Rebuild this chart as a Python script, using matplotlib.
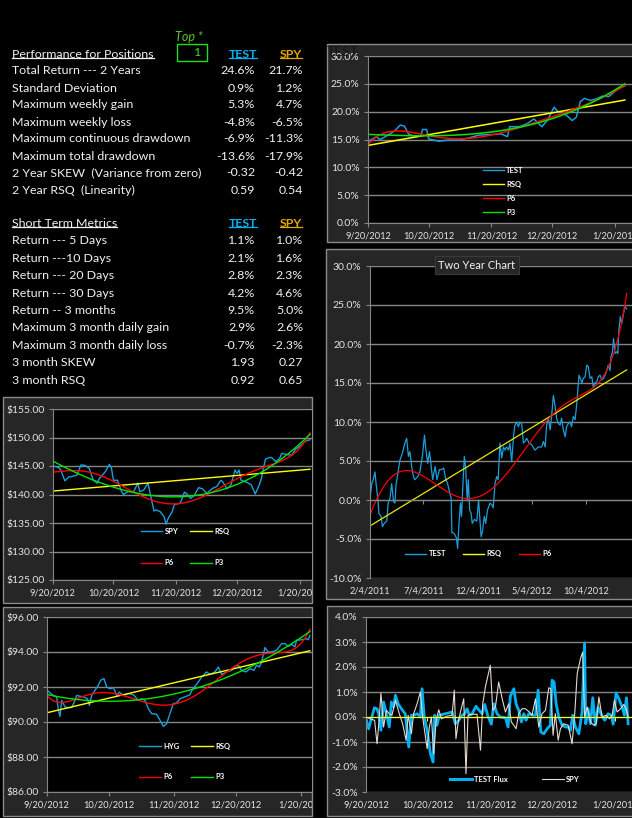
import numpy as np
import matplotlib
matplotlib.use("Agg")
import matplotlib.pyplot as plt
from matplotlib.patches import Rectangle
from matplotlib.lines import Line2D
from matplotlib.ticker import FuncFormatter

plt.rcParams['font.family'] = ['Lato', 'DejaVu Sans']

# ---------------- table data ----------------
perf_rows = ["Total Return --- 2 Years", "Standard Deviation", "Maximum weekly gain",
             "Maximum weekly loss", "Maximum continuous drawdown", "Maximum total drawdown",
             "2 Year SKEW  (Variance from zero)", "2 Year RSQ  (Linearity)"]
perf_test = ["24.6%", "0.9%", "5.3%", "-4.8%", "-6.9%", "-13.6%", "-0.32", "0.59"]
perf_spy = ["21.7%", "1.2%", "4.7%", "-6.5%", "-11.3%", "-17.9%", "-0.42", "0.54"]

short_rows = ["Return --- 5 Days", "Return ---10 Days", "Return --- 20 Days", "Return --- 30 Days",
              "Return -- 3 months", "Maximum 3 month daily gain", "Maximum 3 month daily loss",
              "3 month SKEW", "3 month RSQ"]
short_test = ["1.1%", "2.1%", "2.8%", "4.2%", "9.5%", "2.9%", "-0.7%", "1.93", "0.92"]
short_spy = ["1.0%", "1.6%", "2.3%", "4.6%", "5.0%", "2.6%", "-2.3%", "0.27", "0.65"]

top_n = "1"

# ---------------- chart data (days since first date) ----------------
start_3m = np.datetime64('2012-09-20')
ticks_3m = ['2012-09-20', '2012-10-20', '2012-11-20', '2012-12-20', '2013-01-20']
labels_3m = ['9/20/2012', '10/20/2012', '11/20/2012', '12/20/2012', '1/20/2013']
start_2y = np.datetime64('2011-02-04')
ticks_2y = ['2011-02-04', '2011-07-04', '2011-12-04', '2012-05-04', '2012-10-04']
labels_2y = ['2/4/2011', '7/4/2011', '12/4/2011', '5/4/2012', '10/4/2012']

# TEST, 3 months, cumulative return %
test3m_day = [0, 4, 6, 9, 13, 16, 18, 20, 23, 26, 27, 29, 30, 35, 40, 45, 50, 55, 61, 66,
              69, 70, 75, 79, 82, 86, 89, 92, 94, 98, 101, 103, 105, 107, 110, 113, 116, 119, 121, 124, 127]
test3m_pct = [14.6, 15.5, 15.0, 15.6, 16.5, 17.6, 17.4, 16.0, 15.5, 15.6, 16.8, 16.8, 15.1, 14.7, 14.9,
              14.9, 15.3, 15.8, 15.9, 16.0, 15.5, 17.3, 17.3, 17.9, 18.7, 17.3, 18.6, 20.8, 20.0, 19.4,
              18.4, 19.0, 21.8, 22.4, 22.0, 22.3, 22.8, 22.7, 23.3, 24.2, 24.6]

# TEST, two years, cumulative return %
test2y_day = [0, 5, 9, 14, 17, 22, 25, 31, 35, 40, 47, 51, 56, 61, 66, 70, 73, 80, 84, 91,
              98, 103, 108, 112, 117, 122, 126, 134, 140, 147, 153, 157, 162, 167, 171, 176, 183, 188, 195, 201,
              207, 213, 218, 222, 228, 230, 234, 239, 243, 246, 250, 254, 257, 261, 265, 269, 273, 276, 280, 284,
              287, 293, 300, 305, 308, 312, 316, 321, 325, 330, 337, 342, 346, 351, 356, 360, 365, 370, 375, 379,
              384, 389, 393, 398, 403, 407, 412, 417, 421, 426, 431, 435, 440, 447, 454, 463, 473, 482, 487, 492,
              496, 501, 506, 510, 515, 520, 524, 529, 534, 538, 543, 548, 552, 557, 562, 566, 571, 576, 580, 583,
              587, 591, 595, 599, 604, 609, 613, 618, 623, 627, 632, 637, 641, 646, 651, 656, 660, 665, 669, 674,
              677, 681, 684, 688, 693, 696, 699, 703, 707, 712, 716, 721]
test2y_pct = [0.2, 2.1, 2.6, 3.6, 2.1, 0.2, -1.7, -2.1, -3.4, -3.0, -2.7, -0.4, 0.2, 2.1, -0.2, -0.4, 1.9, 3.9, 5.1, 6.0,
              7.3, 7.9, 5.6, 6.2, 4.3, 3.0, 2.6, 3.0, 3.6, 5.6, 8.3, 6.4, 4.7, 6.2, 4.7, 2.6, 4.3, 2.6, 3.9, 3.9,
              4.1, 2.6, 2.1, 1.3, 0.2, -4.2, -4.2, -4.5, -4.9, -6.2, -3.0, -0.4, -2.1, 2.1, 5.6, 3.9, 0.0, 2.6, -1.3, -1.7,
              -3.0, -2.5, -2.7, 0.0, -2.1, -4.7, -4.0, -2.1, -3.0, -1.3, -0.4, -0.6, -1.0, 2.1, 3.0, 2.6, 7.3, 5.4, 6.8, 6.4,
              6.8, 6.4, 7.3, 4.9, 8.1, 9.6, 10.0, 9.4, 10.0, 9.8, 7.3, 7.5, 7.9, 7.3, 7.1, 6.4, 6.8, 6.8, 7.5, 6.8,
              9.6, 10.5, 9.0, 10.7, 13.4, 12.0, 10.5, 9.8, 9.6, 10.5, 9.0, 8.1, 9.4, 9.8, 10.0, 9.4, 10.7, 10.3, 12.0, 13.7,
              16.0, 15.6, 15.0, 15.6, 15.8, 17.3, 17.1, 15.6, 15.8, 14.5, 15.0, 15.2, 15.8, 16.0, 15.4, 15.6, 16.0, 16.6, 17.3, 16.6,
              18.4, 19.0, 20.7, 18.8, 19.0, 18.8, 21.8, 23.5, 22.6, 23.9, 24.8, 24.5]

# SPY price, 3 months
spy_day = [0, 3, 4, 6, 8, 9, 12, 14, 16, 18, 20, 22, 23, 26, 28, 29, 30, 32, 34, 35,
           37, 40, 42, 43, 45, 47, 50, 51, 53, 55, 56, 57, 59, 60, 63, 65, 66, 68, 70, 72,
           74, 76, 79, 81, 83, 84, 86, 88, 90, 91, 92, 93, 96, 98, 100, 102, 103, 105, 107, 108,
           110, 112, 113, 116, 118, 120, 121, 123, 125, 127]
spy_price = [145.06, 144.7, 144.3, 142.4, 143.1, 143.1, 143.4, 145.2, 145.1, 144.6,
             142.5, 142.0, 142.8, 144.0, 145.3, 144.6, 142.5, 142.5, 140.5, 140.0,
             140.5, 140.5, 142.0, 140.5, 140.8, 142.0, 137.1, 137.3, 137.0, 136.1,
             134.8, 135.8, 137.0, 138.2, 138.5, 140.4, 140.2, 139.3, 139.9, 141.2,
             141.0, 140.2, 141.1, 141.4, 142.5, 142.2, 141.0, 141.7, 144.3, 143.7,
             144.3, 142.5, 142.1, 141.7, 140.1, 141.7, 142.8, 146.2, 146.5, 146.5,
             145.8, 146.3, 147.2, 147.0, 146.9, 148.0, 148.2, 148.8, 149.4, 149.6]

# HYG price, 3 months
hyg_day = [0.3, 1.6, 3.2, 4.8, 5.6, 6.4, 7.2, 8.8, 10.4, 12.0, 13.6, 14.4, 16.0, 17.9, 19.5, 20.5, 21.6, 23.2, 24.8, 25.9,
           27.5, 28.8, 30.4, 32.0, 33.6, 34.9, 36.8, 39.2, 41.6, 44.0, 45.6, 47.2, 48.8, 50.4, 52.8, 54.4, 56.0, 57.6, 59.2, 60.8,
           62.4, 64.0, 66.4, 68.8, 70.1, 72.0, 74.4, 76.8, 78.4, 80.8, 82.4, 84.0, 86.4, 88.8, 90.4, 92.0, 93.6, 95.7, 97.6, 99.5,
           100.8, 102.1, 103.2, 104.8, 106.4, 108.0, 110.4, 112.8, 114.4, 116.0, 117.6, 119.2, 120.0, 122.4, 124.8, 125.6, 126.4]
hyg_price = [91.81, 91.66, 91.52, 91.43, 90.67, 90.32, 91.24, 90.86, 90.82, 90.82,
             91.24, 91.52, 91.47, 91.43, 91.33, 90.95, 91.52, 91.81, 92.10, 92.38,
             92.48, 92.0, 91.9, 91.96, 91.52, 91.71, 91.52, 91.62, 91.56, 91.24,
             91.33, 91.24, 90.76, 90.48, 90.44, 90.1, 89.75, 89.9, 90.48, 91.05,
             91.09, 91.33, 91.43, 91.56, 91.9, 92.15, 92.57, 92.86, 92.72, 92.86,
             93.14, 92.72, 92.86, 92.95, 93.18, 93.24, 92.95, 92.86, 93.05, 92.95,
             93.24, 93.14, 93.43, 94.25, 94.0, 94.0, 94.1, 94.48, 94.48, 94.32,
             94.44, 94.29, 94.67, 94.7, 94.76, 94.7, 94.95]

# daily flux %, 3 months
flux_test_day = [0, 1.3, 2.4, 4.1, 5.4, 6.2, 7.3, 8.6, 10.0, 11.4, 12.4, 13.5, 14.4, 15.7, 17.3, 19.2, 20.9, 22.2, 23.5, 25.0,
                 26.6, 27.4, 28.5, 29.9, 31.5, 32.8, 33.6, 34.7, 35.9, 38.8, 42.1, 43.7, 45.4, 47.0, 48.3, 49.4, 50.6, 51.9, 53.8, 55.1,
                 56.8, 58.1, 59.5, 61.3, 62.5, 64.1, 65.7, 68.2, 69.5, 70.6, 72.3, 73.4, 74.7, 76.0, 77.2, 78.3, 79.6, 81.6, 82.9, 84.2,
                 85.5, 87.0, 88.6, 90.2, 91.0, 92.0, 93.0, 94.3, 95.9, 97.6, 98.9, 100.0, 101.1, 102.4, 104.1, 105.7, 106.9, 107.5, 108.6, 109.8,
                 110.9, 112.2, 113.5, 115.2, 116.8, 118.4, 119.9, 120.9, 122.3, 123.7, 125.3, 126.4, 127.4, 128.2]
flux_test = [-0.07, -0.47, -0.13, 0.37, 0.33, 0.13, -0.53, 0.6, 0.13, -0.4, 0.6, 0.4, 0.87, 0.53, 0.33, 0.13, -1.2, 0.07, 0.07, 0.13,
             0.0, 1.13, 0.0, -0.53, -1.47, -1.8, 0.07, -0.33, 0.07, 0.13, 0.2, -0.27, -0.13, 0.07, 0.13, 0.33, 0.07, 0.13, 0.43, 0.29,
             0.13, 0.5, 0.07, -0.29, 0.53, 0.13, 0.0, -0.03, -0.4, 0.83, 1.13, 0.53, 0.27, -0.2, 0.13, -0.13, 0.13, 0.07, 0.07, 1.07,
             -0.6, -0.67, -0.47, -0.33, 1.47, 1.4, 0.53, 0.0, -0.33, -0.4, -0.4, -0.53, 0.07, -0.4, -0.67, 0.2, 2.96, -0.27, 0.33, -0.27,
             0.77, -0.33, 0.4, 0.07, -0.13, 0.13, 0.07, -0.29, 0.96, 0.73, 0.4, 0.07, 0.77, -0.27]
flux_spy_day = [0, 2.9, 4.2, 5.4, 6.5, 7.3, 8.6, 10.0, 11.4, 12.7, 14.4, 16.3, 17.9, 19.6, 20.6, 22.2, 23.3, 25.0, 26.6, 27.7,
                29.9, 31.0, 32.0, 33.1, 34.3, 35.6, 36.9, 39.6, 42.1, 43.2, 44.0, 45.0, 46.2, 47.8, 48.9, 49.9, 51.9, 54.3, 56.0, 57.1,
                58.4, 60.8, 62.0, 63.3, 64.9, 66.6, 68.2, 69.8, 71.1, 72.3, 73.4, 74.7, 76.3, 78.0, 79.9, 81.2, 82.9, 84.5, 86.1, 87.8,
                89.4, 90.4, 91.5, 92.6, 94.0, 95.1, 96.7, 98.9, 100.8, 102.1, 103.3, 104.9, 106.0, 106.9, 108.2, 109.8, 111.4, 112.6, 113.9, 115.5,
                117.5, 119.1, 120.4, 121.5, 122.8, 124.5, 126.1, 127.2, 128.2]
flux_spy = [0.0, -0.1, -0.13, -1.07, -0.07, 0.96, -0.4, 0.27, 0.13, 0.07, 0.67, 0.13, -0.27, -0.93, 0.07, -0.67, 0.13, 0.53, 1.0, 0.0,
            -1.27, -0.4, 0.0, -1.47, -0.13, 0.29, -0.07, 0.03, 0.07, 1.07, -0.87, -0.27, 0.2, 0.73, -2.27, 0.07, 0.11, 0.11, -1.33, 0.53,
            1.2, 2.07, 0.27, 0.4, 1.4, 0.73, 0.2, 0.53, -0.2, -0.33, -0.47, 0.13, 0.33, 0.33, 0.2, 0.07, 0.73, -0.4, 0.13, 0.27,
            1.17, 1.13, -0.73, 0.13, -0.93, -0.47, -0.27, -0.33, -1.07, 0.13, 1.73, 2.33, 2.6, 0.0, 0.4, -0.2, -0.33, -0.27, 0.8, 0.0,
            0.07, -0.07, 0.07, 0.67, 0.2, 0.33, 0.5, 0.33, 0.0]

# ---------------- styling ----------------
W, H = 632, 818
BG = '#262626'
GRID = '#858585'
TXT = '#e4e4e4'
WHITE = '#f2f2f2'
BLUE = '#1a9fdc'
YEL = '#ffff00'
RED = '#ff0000'
GRN = '#00e600'
FS = 8.9      # table text
YS = 7.5      # value tick labels
XS = 6.7      # date tick labels

fig = plt.figure(figsize=(W / 100, H / 100), dpi=100, facecolor='black')


def ftext(x, y, s, **kw):
    return fig.text(x / W, 1 - y / H, s, **kw)


def panel(l, t, r, b):
    p = Rectangle((l / W, 1 - b / H), (r - l) / W, (b - t) / H, transform=fig.transFigure,
                  facecolor=BG, edgecolor='#8a8a8a', lw=1.0, zorder=-1)
    fig.patches.append(p)
    return p


def days_of(dates, start):
    return (np.array(dates, dtype='datetime64[D]') - start).astype(int)


def chart(px, xlim, ylim, ystep, fmt, tdays, tlabels, zero=False, axis_color=GRID):
    l, t, r, b = px
    ax = fig.add_axes([l / W, 1 - b / H, (r - l) / W, (b - t) / H])
    ax.set_facecolor('black')
    ax.set_xlim(*xlim)
    ax.set_ylim(*ylim)
    ax.set_yticks(np.arange(ylim[0], ylim[1] + ystep / 2, ystep))
    ax.yaxis.set_major_formatter(FuncFormatter(fmt))
    ax.set_xticks(tdays, tlabels)
    ax.grid(axis='y', color=GRID, lw=1.0)
    ax.set_axisbelow(True)
    for s in ('top', 'right'):
        ax.spines[s].set_visible(False)
    ax.spines['left'].set_color(GRID)
    ax.spines['bottom'].set_color(axis_color)
    ax.tick_params(axis='y', colors=GRID, labelcolor=TXT, labelsize=YS, length=3, width=0.8, pad=3)
    gap = 4
    if zero:
        ax.spines['bottom'].set_position(('data', 0))
        gap += (0 - ylim[0]) / (ylim[1] - ylim[0]) * (b - t)
    ax.tick_params(axis='x', colors=axis_color, labelcolor=TXT, labelsize=XS, length=3, width=0.8,
                   pad=gap * 0.72)
    return ax


def fits(days, vals):
    d = np.asarray(days, float)
    v = np.asarray(vals, float)
    return {n: np.polynomial.Polynomial.fit(d, v, k)(d) for n, k in (('RSQ', 1), ('P6', 6), ('P3', 3))}


def legend(ax, items, anchor, loc='center', ncol=1, labelspacing=0.8, columnspacing=1.5):
    hs = [Line2D([], [], color=c, lw=lw) for _, c, lw in items]
    ax.legend(hs, [n for n, _, _ in items], loc=loc, bbox_to_anchor=anchor, ncol=ncol, frameon=False,
              prop={'size': 5.5, 'weight': 'bold'}, labelcolor='white', handlelength=2.8,
              handletextpad=0.3, labelspacing=labelspacing, columnspacing=columnspacing,
              borderpad=0, borderaxespad=0)


def underline(t, color):
    fig.canvas.draw()
    bb = t.get_window_extent(renderer=fig.canvas.get_renderer())
    y = bb.y0 + 2
    fig.add_artist(Line2D([bb.x0 / W, bb.x1 / W], [y / H, y / H], transform=fig.transFigure,
                          color=color, lw=0.9))


pct = lambda v, _: f'{v:.1f}%'
usd = lambda v, _: f'${v:.2f}'

# ---------------- tables ----------------
ftext(189, 37, 'Top *', color='#5ec41e', fontsize=9, style='italic', ha='center', va='center')
fig.patches.append(Rectangle((176.7 / W, 1 - 61 / H), 30.3 / W, 17 / H, transform=fig.transFigure,
                             facecolor='none', edgecolor='#1ee01e', lw=1.0))
ftext(201, 53, top_n, color='#3fd63f', fontsize=FS, ha='right', va='center')

hdr = []
hdr.append((ftext(12, 54, 'Performance for Positions', color=WHITE, fontsize=FS, va='center'), WHITE))
hdr.append((ftext(243, 54, 'TEST', color='#00b0f0', fontsize=FS, ha='center', va='center', weight='bold'), '#00b0f0'))
hdr.append((ftext(291, 54, 'SPY', color='#e6a700', fontsize=FS, ha='center', va='center', weight='bold'), '#e6a700'))
for i, y in enumerate(np.linspace(71, 190, len(perf_rows))):
    ftext(12, y, perf_rows[i], color=WHITE, fontsize=FS, va='center')
    ftext(255, y, perf_test[i], color=WHITE, fontsize=FS, va='center', ha='right')
    ftext(303, y, perf_spy[i], color=WHITE, fontsize=FS, va='center', ha='right')

hdr.append((ftext(12, 224, 'Short Term Metrics', color=WHITE, fontsize=FS, va='center'), WHITE))
hdr.append((ftext(243, 224, 'TEST', color='#00b0f0', fontsize=FS, ha='center', va='center', weight='bold'), '#00b0f0'))
hdr.append((ftext(291, 224, 'SPY', color='#e6a700', fontsize=FS, ha='center', va='center', weight='bold'), '#e6a700'))
for i, y in enumerate(np.linspace(241, 380, len(short_rows))):
    ftext(12, y, short_rows[i], color=WHITE, fontsize=FS, va='center')
    ftext(255, y, short_test[i], color=WHITE, fontsize=FS, va='center', ha='right')
    ftext(303, y, short_spy[i], color=WHITE, fontsize=FS, va='center', ha='right')

# ---------------- panels ----------------
panel(327, 44, 700, 242)
panel(326, 249, 700, 599)
pc = panel(3, 397, 312, 603)
pd_ = panel(3, 607, 312, 816)
panel(327, 606, 700, 816)

t3 = days_of(ticks_3m, start_3m)
t2 = days_of(ticks_2y, start_2y)

# A: TEST 3 months
axA = chart((368, 56, 641, 223), (0, 135), (0, 30), 5, pct, t3, labels_3m)
fA = fits(test3m_day, test3m_pct)
axA.plot(test3m_day, test3m_pct, color=BLUE, lw=1.1)
axA.plot(test3m_day, fA['RSQ'], color=YEL, lw=1.1)
axA.plot(test3m_day, fA['P6'], color=RED, lw=1.1)
axA.plot(test3m_day, fA['P3'], color=GRN, lw=1.1)
legend(axA, [('TEST', BLUE, 1), ('RSQ', YEL, 1), ('P6', RED, 1), ('P3', GRN, 1)], (0.42, 0.335),
       loc='upper left', labelspacing=0.9)
ftext(343, 52, 'TEST', color='#161616', fontsize=10, ha='center', va='center', zorder=5)

# B: two year chart
axB = chart((370, 266, 640.6, 578), (0, 760), (-10, 30), 5, pct, t2, labels_2y, zero=True)
fB = fits(test2y_day, test2y_pct)
axB.plot(test2y_day, test2y_pct, color=BLUE, lw=0.9)
axB.plot(test2y_day, fB['RSQ'], color='#e8e800', lw=0.9)
axB.plot(test2y_day, fB['P6'], color=RED, lw=0.9)
legend(axB, [('TEST', BLUE, 1), ('RSQ', YEL, 1), ('P6', RED, 1)], (0.40, 0.077), ncol=3,
       columnspacing=2.2)
ftext(477, 265, 'Two Year Chart', color=WHITE, fontsize=8, ha='center', va='center', zorder=5,
      bbox=dict(boxstyle='square,pad=0.35', facecolor=BG, edgecolor='#3a3a3a', lw=0.8))

# C: SPY price
axC = chart((52.7, 409, 312, 580), (0, 128), (125, 155), 5, usd, t3, labels_3m)
fC = fits(spy_day, spy_price)
axC.plot(spy_day, spy_price, color=BLUE, lw=1.0)
axC.plot(spy_day, fC['RSQ'], color=YEL, lw=1.0)
axC.plot(spy_day, fC['P6'], color=RED, lw=1.0)
axC.plot(spy_day, fC['P3'], color=GRN, lw=1.0)
legend(axC, [('SPY', BLUE, 1), ('P6', RED, 1), ('RSQ', YEL, 1), ('P3', GRN, 1)], (0.51, 0.193), ncol=2,
       labelspacing=3.2, columnspacing=1.6)

# D: HYG price
axD = chart((46.7, 617, 312, 792), (0, 127.4), (86, 96), 2, usd, t3, labels_3m)
fD = fits(hyg_day, hyg_price)
axD.plot(hyg_day, hyg_price, color=BLUE, lw=1.0)
axD.plot(hyg_day, fD['RSQ'], color=YEL, lw=1.0)
axD.plot(hyg_day, fD['P6'], color=RED, lw=1.0)
axD.plot(hyg_day, fD['P3'], color=GRN, lw=1.0)
legend(axD, [('HYG', BLUE, 1), ('P6', RED, 1), ('RSQ', YEL, 1), ('P3', GRN, 1)], (0.52, 0.174), ncol=2,
       labelspacing=3.1, columnspacing=1.6)

# E: daily flux
axE = chart((366, 617, 642, 792), (0, 135), (-3, 4), 1, pct, t3, labels_3m, zero=True, axis_color=YEL)
axE.plot(flux_test_day, flux_test, color='#00b0f0', lw=2.0)
axE.plot(flux_spy_day, flux_spy, color='#e3d9cf', lw=0.8)
legend(axE, [('TEST Flux', '#00b0f0', 2.2), ('SPY', '#e3d9cf', 0.8)], (0.54, 0.074), ncol=2,
       columnspacing=4.5)

for ax, p in ((axC, pc), (axD, pd_)):
    for lab in ax.get_xticklabels():
        lab.set_clip_path(p)

for t, c in hdr:
    underline(t, c)

fig.savefig('out.png', dpi=100, facecolor='black')
